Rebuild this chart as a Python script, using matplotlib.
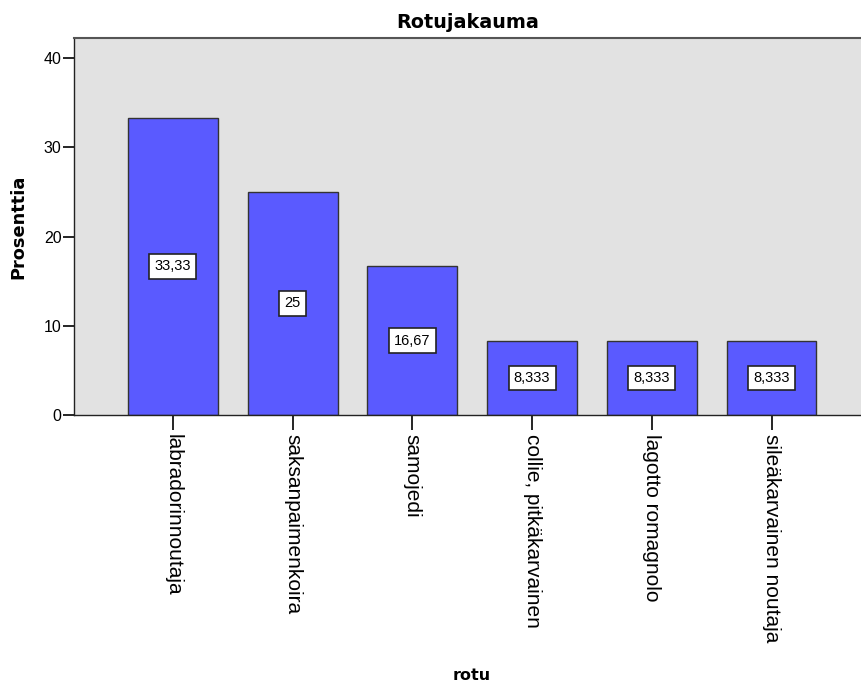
import matplotlib
matplotlib.use("Agg")
import matplotlib.pyplot as plt

# ── Data ──────────────────────────────────────────────────────────────────────
breeds = [
    "labradorinnoutaja",
    "saksanpaimenkoira",
    "samojedi",
    "collie, pitkäkarvainen",
    "lagotto romagnolo",
    "sileäkarvainen noutaja",
]
percent = [33.33, 25, 16.67, 8.333, 8.333, 8.333]
value_labels = ["33,33", "25", "16,67", "8,333", "8,333", "8,333"]
y_ticks = [0, 10, 20, 30, 40]

plt.rcParams["font.family"] = ["Liberation Sans", "DejaVu Sans"]
BOLD = ["DejaVu Sans"]

fig = plt.figure(figsize=(8.62, 6.86), dpi=100)
ax = fig.add_axes([0.0858, 0.395, 0.9142, 0.5496])
ax.set_facecolor("#e2e2e2")

x = list(range(len(breeds)))
ax.bar(x, percent, width=0.75, color="#5a5aff", edgecolor="#333333", linewidth=1.0, zorder=2)

# value boxes at half bar height
for xi, val, lab in zip(x, percent, value_labels):
    ax.text(xi, val / 2, lab, ha="center", va="center", fontsize=10.5, zorder=3,
            bbox=dict(boxstyle="square,pad=0.36", fc="white", ec="#222222", lw=1.2))

ax.set_xlim(-0.827, 5.756)
ax.set_ylim(0, 42.24)
ax.set_yticks(y_ticks)
ax.set_xticks(x)
ax.set_xticklabels(breeds, rotation=-90, ha="center", va="top", fontsize=15)
ax.tick_params(axis="y", direction="out", length=8, width=1.2, labelsize=11.5, pad=1)
ax.tick_params(axis="x", direction="out", length=11, width=1.2, pad=3)

for side in ["left", "bottom"]:
    ax.spines[side].set_color("#222222")
    ax.spines[side].set_linewidth(1.0)
ax.spines["top"].set_color("#555555")
ax.spines["top"].set_linewidth(1.5)
ax.spines["right"].set_visible(False)

ax.set_title("Rotujakauma", fontsize=13.8, fontweight="bold", family=BOLD, pad=7)
ax.set_ylabel("Prosenttia", fontsize=12.8, fontweight="bold", family=BOLD, labelpad=12)
fig.text(0.547, 0.009, "rotu", ha="center", va="baseline", fontsize=11.5,
         fontweight="bold", family=BOLD)

fig.savefig("out.png", dpi=100)
